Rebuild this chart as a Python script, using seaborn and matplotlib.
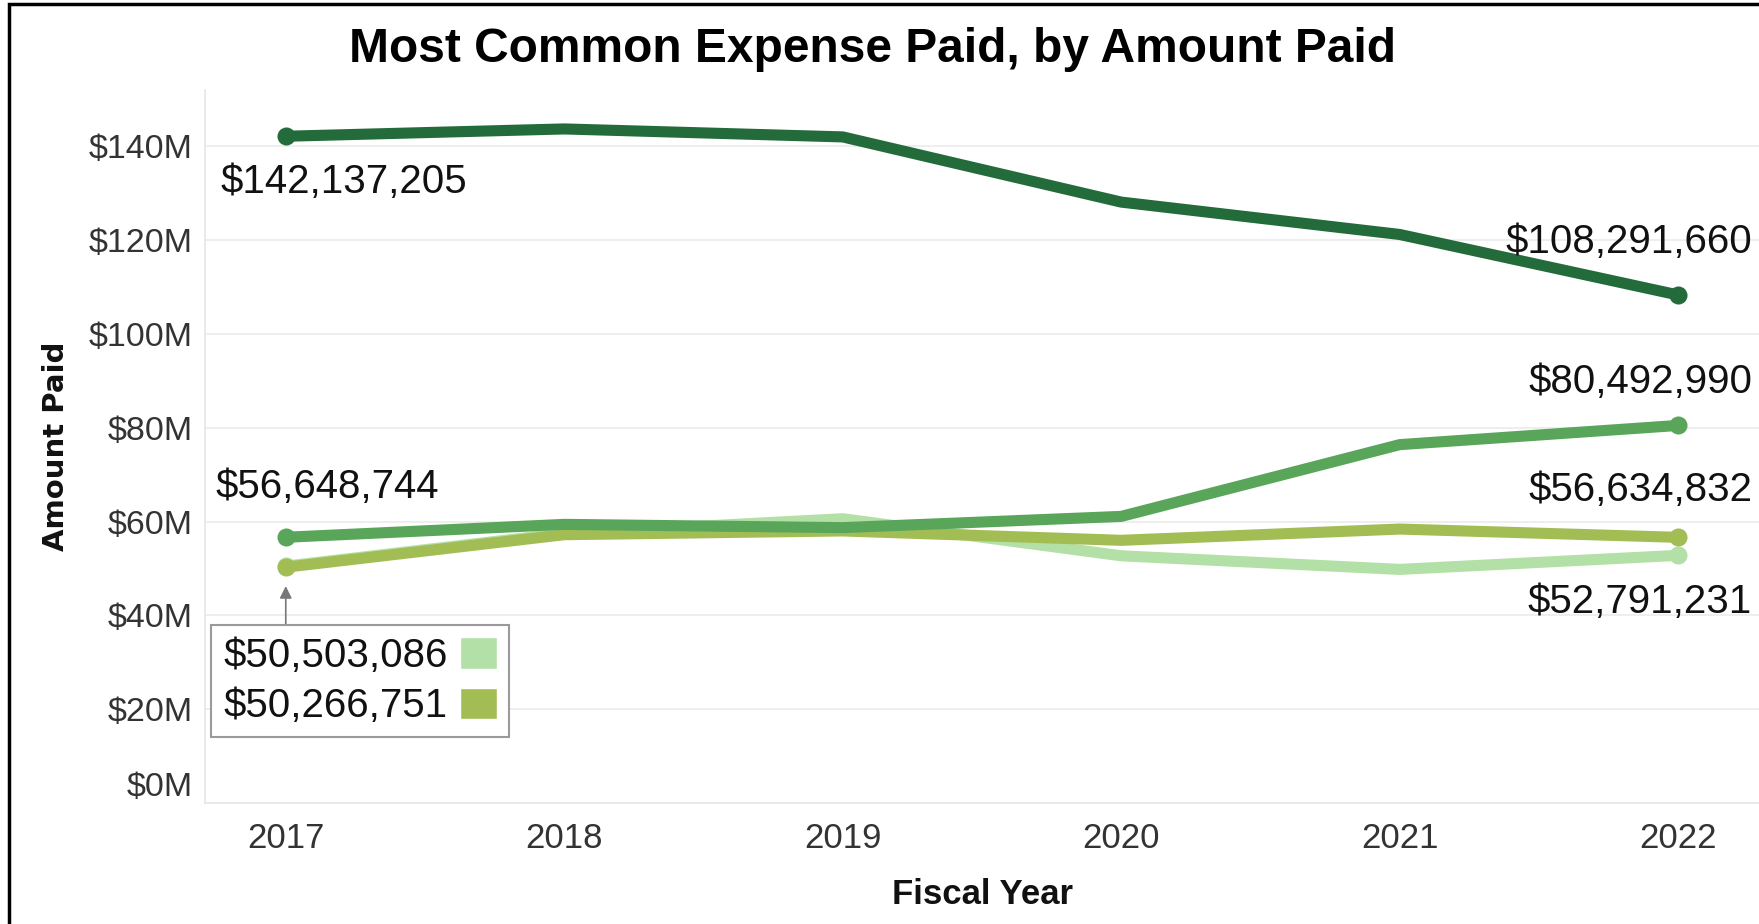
import matplotlib
matplotlib.use("Agg")
import matplotlib.pyplot as plt
import pandas as pd
import seaborn as sns
from matplotlib.patches import Patch, Rectangle
from matplotlib.ticker import FuncFormatter

# amounts paid per fiscal year, in dollars
years = [2017, 2018, 2019, 2020, 2021, 2022]
series = ["light", "olive", "medium", "dark"]
light = [50503086, 57500000, 60600000, 52700000, 49800000, 52791231]
olive = [50266751, 57200000, 58000000, 56000000, 58400000, 56634832]
medium = [56648744, 59400000, 58700000, 61100000, 76400000, 80492990]
dark = [142137205, 143700000, 142000000, 128100000, 121200000, 108291660]
colors = ["#b3e0a6", "#a3bd55", "#59a65a", "#236b3a"]
yticks = [0, 20, 40, 60, 80, 100, 120, 140]

rows = []
for name, vals in zip(series, [light, olive, medium, dark]):
    for yr, v in zip(years, vals):
        rows.append({"year": yr, "amount": v / 1e6, "series": name})
df = pd.DataFrame(rows)

sns.set_theme(style="white")
plt.rcParams["font.family"] = ["Liberation Sans", "DejaVu Sans"]

fig = plt.figure(figsize=(17.59, 9.24), dpi=100)
ax = fig.add_axes([205 / 1759, 121 / 924, 1 - 205 / 1759, (803 - 90) / 924])

sns.lineplot(data=df, x="year", y="amount", hue="series", hue_order=series,
             palette=dict(zip(series, colors)), linewidth=8, errorbar=None,
             marker="o", markevery=[0, len(years) - 1], markersize=13,
             markeredgewidth=0, solid_joinstyle="round", solid_capstyle="round",
             legend=False, ax=ax)

ax.set_xlim(2016.71, 2022.29)
ax.set_ylim(0, 152)
ax.set_xticks(years)
ax.set_xticklabels([str(y) for y in years])
ax.set_yticks(yticks)
ax.yaxis.set_major_formatter(FuncFormatter(lambda v, p: f"${v:.0f}M"))
ax.grid(axis="y", color="#ebebeb", linewidth=1.2)
ax.set_axisbelow(True)
for s in ["top", "right"]:
    ax.spines[s].set_visible(False)
for s in ["left", "bottom"]:
    ax.spines[s].set_color("#e6e6e6")
    ax.spines[s].set_linewidth(1.2)
ax.tick_params(axis="x", length=7, width=1, color="#e6e6e6", pad=7,
               labelsize=25, labelcolor="#333333")
ax.tick_params(axis="y", length=0, pad=9, labelsize=24.5, labelcolor="#333333")
ax.get_yticklabels()[0].set_va("bottom")

ax.set_xlabel("Fiscal Year", fontsize=25, fontweight="bold", labelpad=16,
              color="#111111")
ax.set_ylabel("Amount Paid", fontsize=21, fontweight="bold", labelpad=13,
              family=["DejaVu Sans"], color="#111111")
fig.text(0.496, 0.946, "Most Common Expense Paid, by Amount Paid",
         fontsize=34.5, fontweight="bold", ha="center", va="center",
         color="black")

# value labels at the line ends
def money(v):
    return f"${v:,.0f}"

labels = [
    (dark, 0, (-65, -46), "left"),
    (medium, 0, (-70, 50), "left"),
    (dark, -1, (74, 53), "right"),
    (medium, -1, (74, 43), "right"),
    (olive, -1, (74, 47), "right"),
    (light, -1, (74, -47), "right"),
]
for vals, i, off, ha in labels:
    ax.annotate(money(vals[i]), xy=(years[i], vals[i] / 1e6), xytext=off,
                textcoords="offset pixels", ha=ha, va="center",
                fontsize=29, color="#111111")

# boxed labels for the two overlapping starting values
handles = [Patch(facecolor=colors[0]), Patch(facecolor=colors[1])]
leg = ax.legend(handles, [money(light[0]), money(olive[0])], markerfirst=False,
                loc="upper left", bbox_to_anchor=(211 / 1759, 1 - 625 / 924),
                bbox_transform=fig.transFigure, fontsize=29, frameon=True,
                fancybox=False, edgecolor="#9a9a9a", framealpha=1,
                handlelength=0.92, handleheight=0.82, handletextpad=0.3,
                labelspacing=0.3, borderpad=0.3, borderaxespad=0)
leg.get_frame().set_linewidth(1.5)
for t in leg.get_texts():
    t.set_color("#111111")

ax.annotate("", xy=(years[0], (light[0] + olive[0]) / 2e6), xytext=(0, -58),
            textcoords="offset pixels",
            arrowprops=dict(arrowstyle="-|>", color="#777777", lw=1.2,
                            mutation_scale=18, shrinkA=0, shrinkB=14))

fig.add_artist(Rectangle((9 / 1759, -0.1), 1.2, 1.1 - 4 / 924,
                         transform=fig.transFigure, fill=False,
                         edgecolor="black", linewidth=2.5))

fig.savefig("out.png", dpi=100)
